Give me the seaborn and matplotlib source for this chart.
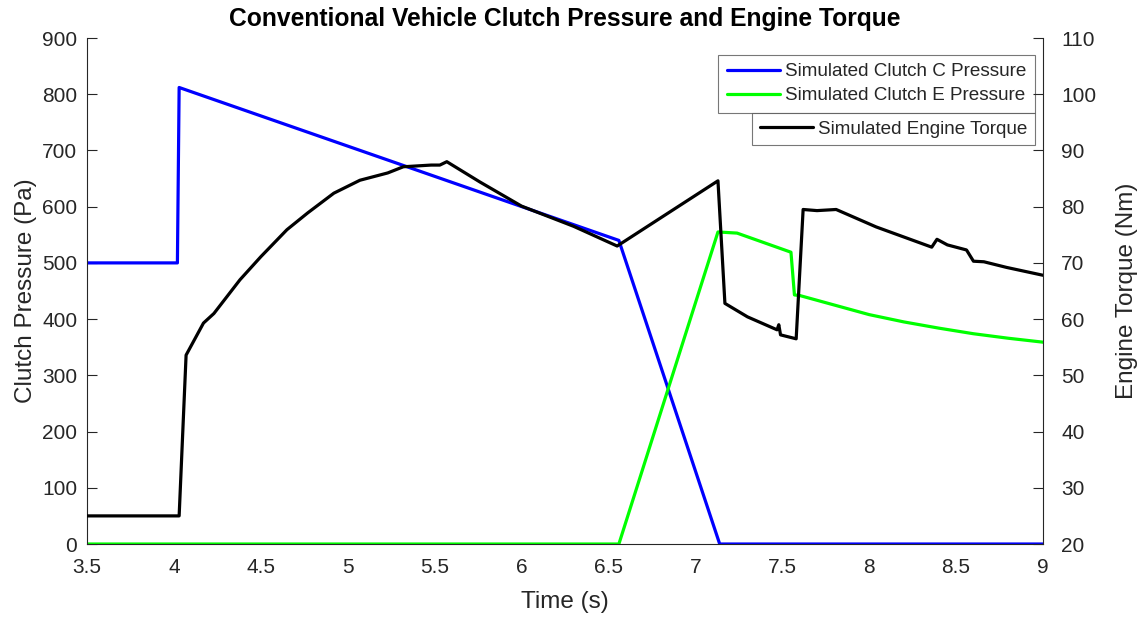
import matplotlib
matplotlib.use("Agg")
import matplotlib.pyplot as plt
import seaborn as sns
import pandas as pd

# ---- data ----
time_c = [3.5, 4.02, 4.03, 6.56, 7.14, 9.0]
press_c = [500, 500, 812, 540, 0, 0]

time_e = [3.5, 6.56, 7.13, 7.24, 7.55, 7.57, 7.6, 7.8, 8.0, 8.2, 8.4, 8.6, 8.8, 9.0]
press_e = [0, 0, 555, 553, 519, 443, 442, 425, 408, 395, 384, 374, 366, 359]

time_t = [3.5, 4.03, 4.07, 4.17, 4.23, 4.38, 4.50, 4.65, 4.77, 4.92, 5.07, 5.23,
          5.32, 5.48, 5.53, 5.57, 5.76, 6.0, 6.3, 6.55, 7.13, 7.17, 7.30, 7.47,
          7.48, 7.49, 7.58, 7.62, 7.70, 7.81, 8.04, 8.36, 8.39, 8.45, 8.56, 8.60,
          8.66, 8.79, 9.0]
torque = [25, 25, 53.6, 59.3, 61.0, 67.0, 71.1, 75.9, 78.9, 82.4, 84.7, 86.0,
          87.1, 87.4, 87.4, 88.0, 84.4, 80.1, 76.5, 73.0, 84.6, 62.8, 60.4, 58.1,
          59.0, 57.2, 56.5, 79.5, 79.3, 79.5, 76.4, 72.8, 74.2, 73.2, 72.3, 70.3,
          70.2, 69.2, 67.8]

x_ticks = [3.5, 4, 4.5, 5, 5.5, 6, 6.5, 7, 7.5, 8, 8.5, 9]
x_tick_labels = ["3.5", "4", "4.5", "5", "5.5", "6", "6.5", "7", "7.5", "8", "8.5", "9"]
left_ticks = [0, 100, 200, 300, 400, 500, 600, 700, 800, 900]
right_ticks = [20, 30, 40, 50, 60, 70, 80, 90, 100, 110]

labels = ["Simulated Clutch C Pressure", "Simulated Clutch E Pressure",
          "Simulated Engine Torque"]

sns.set_style("white")
plt.rcParams["font.family"] = ["Liberation Sans", "DejaVu Sans"]

fig = plt.figure(figsize=(11.42, 6.17), dpi=100)
ax = fig.add_axes([0.0762, 0.1183, 0.9133 - 0.0762, 0.9384 - 0.1183])
ax2 = ax.twinx()

df_c = pd.DataFrame({"t": time_c, "p": press_c})
df_e = pd.DataFrame({"t": time_e, "p": press_e})
df_t = pd.DataFrame({"t": time_t, "q": torque})

lw = 2.3
sns.lineplot(data=df_c, x="t", y="p", ax=ax, color=(0, 0, 1), lw=lw,
             sort=False, estimator=None, label=labels[0])
sns.lineplot(data=df_e, x="t", y="p", ax=ax, color=(0, 1, 0), lw=lw,
             sort=False, estimator=None, label=labels[1])
sns.lineplot(data=df_t, x="t", y="q", ax=ax2, color="black", lw=lw,
             sort=False, estimator=None, label=labels[2])

tc = "#262626"
ax.set_xlim(3.5, 9)
ax.set_ylim(0, 900)
ax2.set_ylim(20, 110)
ax.set_xticks(x_ticks)
ax.set_xticklabels(x_tick_labels)
ax.set_yticks(left_ticks)
ax2.set_yticks(right_ticks)

for a in (ax, ax2):
    a.tick_params(direction="in", length=7, width=0.8, labelsize=15,
                  colors=tc, labelcolor=tc)
    for s in a.spines.values():
        s.set_color(tc)
        s.set_linewidth(0.8)
    a.spines["top"].set_visible(False)
ax.tick_params(axis="x", pad=10)
ax.tick_params(axis="y", pad=7)
ax2.tick_params(axis="y", pad=13)
ax.spines["right"].set_visible(False)
ax2.spines["left"].set_visible(False)
ax2.spines["bottom"].set_visible(False)

ax.set_xlabel("Time (s)", fontsize=17.5, color=tc, labelpad=10.5)
ax.set_ylabel("Clutch Pressure (Pa)", fontsize=17.5, color=tc, labelpad=4)
ax2.set_ylabel("Engine Torque (Nm)", fontsize=17.5, color=tc, labelpad=14)
ax.set_title("Conventional Vehicle Clutch Pressure and Engine Torque",
             fontsize=17.7, fontweight="bold", color="black", pad=9)

leg1 = ax.legend(loc="upper right", bbox_to_anchor=(0.992, 0.967), fontsize=13.6,
                 frameon=True, fancybox=False, edgecolor="#555555",
                 handlelength=2.8, handletextpad=0.3, borderpad=0.45,
                 labelspacing=0.35, borderaxespad=0)
leg1.get_frame().set_linewidth(0.8)
leg2 = ax2.legend(loc="upper right", bbox_to_anchor=(0.992, 0.852), fontsize=13.6,
                  frameon=True, fancybox=False, edgecolor="#555555",
                  handlelength=2.8, handletextpad=0.3, borderpad=0.4,
                  borderaxespad=0)
leg2.get_frame().set_linewidth(0.8)

fig.savefig("out.png", dpi=100, facecolor="white")
